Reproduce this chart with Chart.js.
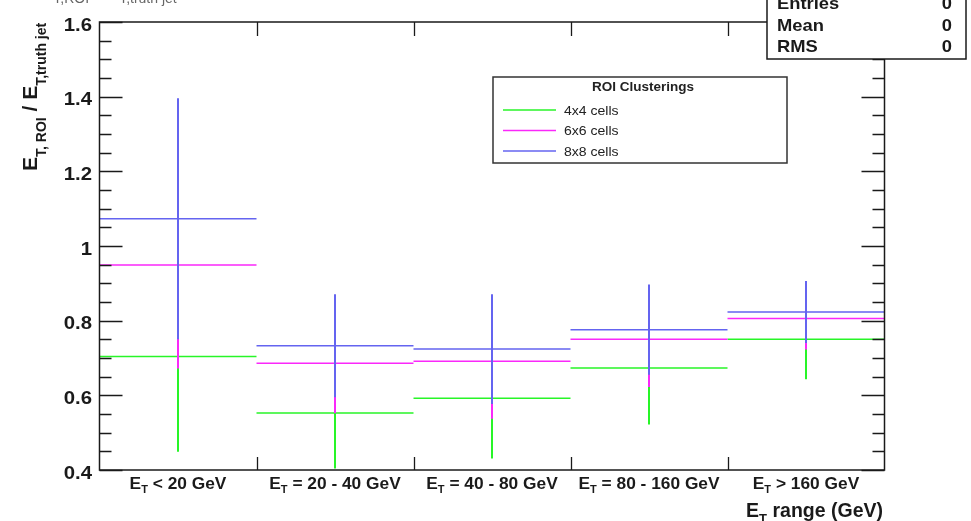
<!DOCTYPE html>
<html>
<head>
<meta charset="utf-8">
<script src="https://cdn.jsdelivr.net/npm/chart.js@4.4.1/dist/chart.umd.min.js"></script>
<style>
  html, body { margin: 0; padding: 0; background: #ffffff; }
  #wrap { width: 971px; height: 521px; position: relative; }
</style>
</head>
<body>
<div id="wrap"><canvas id="c" width="971" height="521"></canvas></div>
<script>
// ---------------- data ----------------
const categories = ['E_{T} < 20 GeV', 'E_{T} = 20 - 40 GeV', 'E_{T} = 40 - 80 GeV', 'E_{T} = 80 - 160 GeV', 'E_{T} > 160 GeV'];
const seriesNames = ['4x4 cells', '6x6 cells', '8x8 cells'];
const vals4x4 = [0.704, 0.553, 0.592, 0.673, 0.750];
const err4x4  = [0.255, 0.149, 0.161, 0.151, 0.107];
const vals6x6 = [0.949, 0.686, 0.691, 0.750, 0.806];
const err6x6  = [0.277, 0.134, 0.154, 0.128, 0.083];
const vals8x8 = [1.073, 0.733, 0.724, 0.776, 0.823];
const err8x8  = [0.323, 0.138, 0.147, 0.121, 0.083];
const yTickValues = [0.4, 0.6, 0.8, 1.0, 1.2, 1.4, 1.6];
const yTickLabels = ['0.4', '0.6', '0.8', '1', '1.2', '1.4', '1.6'];
const yMinorStep = 0.05;
const legendTitle = 'ROI Clusterings';
const xTitle = 'E_{T} range (GeV)';
const yTitle = 'E_{T, ROI} / E_{T,truth jet}';
const histTitle = 'E_{T,ROI} / E_{T,truth jet}';
const statsLabels = ['Entries', 'Mean', 'RMS'];
const statsValues = ['0', '0', '0'];

// ---------------- styling ----------------
const colors = ['rgb(40,245,40)', 'rgb(250,40,250)', 'rgb(100,100,240)'];
const FONT = '"Liberation Sans", Arial, Helvetica, sans-serif';
const AXC = '#1a1a1a';

function hSegs(vals) {
  const d = [];
  vals.forEach((v, i) => { d.push({x: i, y: v}, {x: i + 1, y: v}, {x: i + 1, y: null}); });
  return d;
}
function vSegs(vals, errs) {
  const d = [];
  vals.forEach((v, i) => { d.push({x: i + 0.5, y: v - errs[i]}, {x: i + 0.5, y: v + errs[i]}, {x: i + 0.5, y: null}); });
  return d;
}

// parse "E_{T} text" into parts
function parseLatex(s) {
  const parts = [];
  const re = /_\{([^}]*)\}/g;
  let last = 0, m;
  while ((m = re.exec(s)) !== null) {
    if (m.index > last) parts.push({t: s.slice(last, m.index), sub: false});
    parts.push({t: m[1], sub: true});
    last = re.lastIndex;
  }
  if (last < s.length) parts.push({t: s.slice(last), sub: false});
  return parts;
}

// draw text with subscripts; align: 'left' | 'center' | 'right'
function drawLatex(ctx, s, x, y, o) {
  const parts = parseLatex(s);
  const mainF = `${o.bold ? 'bold ' : ''}${o.size}px ${FONT}`;
  const subF = `${o.bold ? 'bold ' : ''}${o.subSize}px ${FONT}`;
  const sx = o.scaleX || 1;
  let total = 0;
  parts.forEach(p => { ctx.font = p.sub ? subF : mainF; p.w = ctx.measureText(p.t).width; total += p.w; });
  total *= sx;
  let start = x;
  if (o.align === 'center') start = x - total / 2;
  else if (o.align === 'right') start = x - total;
  ctx.save();
  ctx.translate(start, y);
  ctx.scale(sx, 1);
  ctx.fillStyle = o.color || AXC;
  ctx.textBaseline = 'alphabetic';
  ctx.textAlign = 'left';
  let cx = 0;
  parts.forEach(p => {
    ctx.font = p.sub ? subF : mainF;
    ctx.fillText(p.t, cx, p.sub ? o.subDy : 0);
    cx += p.w;
  });
  ctx.restore();
}

const rootPlugin = {
  id: 'rootStyle',
  afterDatasetsDraw(chart) {
    const ctx = chart.ctx;
    const a = chart.chartArea;
    const xs = chart.scales.x, ys = chart.scales.y;
    ctx.save();
    // frame
    ctx.strokeStyle = AXC;
    ctx.lineWidth = 1.5;
    ctx.strokeRect(a.left, a.top, a.right - a.left, a.bottom - a.top);
    // y ticks (left and right, inward)
    ctx.lineWidth = 1.3;
    const nMinor = Math.round((ys.max - ys.min) / yMinorStep);
    for (let k = 0; k <= nMinor; k++) {
      const v = ys.min + k * yMinorStep;
      const py = Math.round(ys.getPixelForValue(v)) + 0.5;
      const major = k % 4 === 0;
      const len = major ? 23 : 12;
      ctx.beginPath();
      ctx.moveTo(a.left, py); ctx.lineTo(a.left + len, py);
      ctx.moveTo(a.right, py); ctx.lineTo(a.right - len, py);
      ctx.stroke();
    }
    // x ticks at bin edges
    for (let i = 1; i < categories.length; i++) {
      const px = Math.round(xs.getPixelForValue(i)) + 0.5;
      ctx.beginPath();
      ctx.moveTo(px, a.bottom); ctx.lineTo(px, a.bottom - 13);
      ctx.moveTo(px, a.top); ctx.lineTo(px, a.top + 14);
      ctx.stroke();
    }
    // y tick labels
    ctx.fillStyle = AXC;
    yTickValues.forEach((v, i) => {
      const py = ys.getPixelForValue(v);
      drawLatex(ctx, yTickLabels[i], 92, py + 8.5, {size: 18.5, subSize: 12, subDy: 0, bold: true, align: 'right', scaleX: 1.1});
    });
    // x tick labels
    categories.forEach((c, i) => {
      const px = xs.getPixelForValue(i + 0.5);
      drawLatex(ctx, c, px, a.bottom + 19, {size: 16.5, subSize: 10.5, subDy: 4, bold: true, align: 'center', scaleX: 1.05});
    });
    // x title
    drawLatex(ctx, xTitle, 883, a.bottom + 47, {size: 19.5, subSize: 13, subDy: 6, bold: true, align: 'right', scaleX: 1.0});
    // y title (rotated)
    ctx.save();
    ctx.translate(37, 171);
    ctx.rotate(-Math.PI / 2);
    drawLatex(ctx, yTitle, 0, 0, {size: 21, subSize: 14, subDy: 9, bold: true, align: 'left', scaleX: 1.0});
    ctx.restore();
    // hidden histogram title (cut at top)
    drawLatex(ctx, histTitle, 40, -6, {size: 20, subSize: 14, subDy: 9, bold: false, align: 'left', color: '#666'});

    // legend box
    const lx = 493, ly = 77, lw = 294, lh = 86;
    ctx.fillStyle = '#ffffff';
    ctx.fillRect(lx, ly, lw, lh);
    ctx.strokeStyle = '#333';
    ctx.lineWidth = 1.5;
    ctx.strokeRect(lx, ly, lw, lh);
    drawLatex(ctx, legendTitle, 643, 91, {size: 13.5, subSize: 10, subDy: 3, bold: true, align: 'center', color: '#222'});
    const rowY = [110, 130.5, 151];
    seriesNames.forEach((n, i) => {
      ctx.strokeStyle = colors[i];
      ctx.lineWidth = 1.6;
      ctx.beginPath();
      ctx.moveTo(503, rowY[i]); ctx.lineTo(556, rowY[i]);
      ctx.stroke();
      drawLatex(ctx, n, 564, rowY[i] + 4.5, {size: 13, subSize: 10, subDy: 3, bold: false, align: 'left', color: '#222', scaleX: 1.08});
    });

    // stats box
    const sx = 767, sy = -2, sw = 199, sh = 61;
    ctx.fillStyle = '#ffffff';
    ctx.fillRect(sx, sy, sw, sh);
    ctx.strokeStyle = AXC;
    ctx.lineWidth = 1.5;
    ctx.strokeRect(sx, sy, sw, sh);
    const sRows = [9, 31, 52];
    statsLabels.forEach((l, i) => {
      drawLatex(ctx, l, 777, sRows[i], {size: 17, subSize: 12, subDy: 3, bold: true, align: 'left', scaleX: 1.08});
      drawLatex(ctx, statsValues[i], 952, sRows[i], {size: 17, subSize: 12, subDy: 3, bold: true, align: 'right', scaleX: 1.08});
    });
    ctx.restore();
  }
};

const common = {pointRadius: 0, pointHoverRadius: 0, spanGaps: false, tension: 0, fill: false, borderCapStyle: 'butt'};
const datasets = [
  Object.assign({label: seriesNames[2], data: vSegs(vals8x8, err8x8), borderColor: colors[2], borderWidth: 2, order: 0}, common),
  Object.assign({label: seriesNames[2], data: hSegs(vals8x8), borderColor: colors[2], borderWidth: 1.5, order: 1}, common),
  Object.assign({label: seriesNames[1], data: vSegs(vals6x6, err6x6), borderColor: colors[1], borderWidth: 2, order: 2}, common),
  Object.assign({label: seriesNames[1], data: hSegs(vals6x6), borderColor: colors[1], borderWidth: 1.5, order: 3}, common),
  Object.assign({label: seriesNames[0], data: vSegs(vals4x4, err4x4), borderColor: colors[0], borderWidth: 2, order: 4}, common),
  Object.assign({label: seriesNames[0], data: hSegs(vals4x4), borderColor: colors[0], borderWidth: 1.5, order: 5}, common)
];

new Chart(document.getElementById('c'), {
  type: 'line',
  data: {datasets},
  options: {
    responsive: false,
    animation: false,
    devicePixelRatio: 1,
    events: [],
    layout: {padding: {left: 99.5, right: 86.5, top: 22, bottom: 51}},
    plugins: {legend: {display: false}, tooltip: {enabled: false}, title: {display: false}},
    scales: {
      x: {type: 'linear', min: 0, max: categories.length, display: false},
      y: {type: 'linear', min: 0.4, max: 1.6, display: false}
    }
  },
  plugins: [rootPlugin]
});
</script>
</body>
</html>
